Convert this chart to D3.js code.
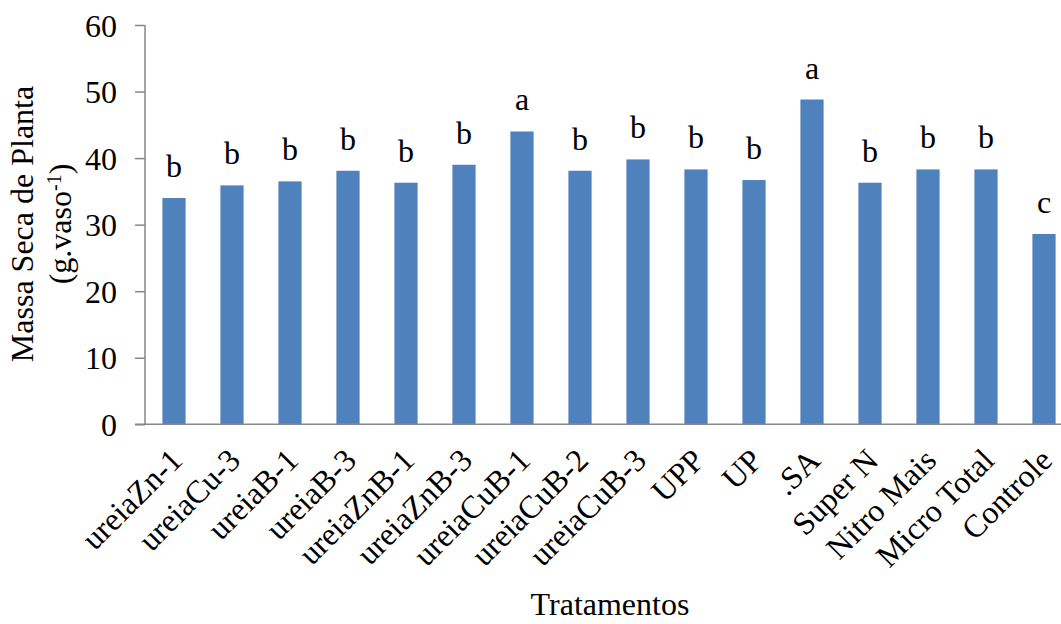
<!DOCTYPE html>
<html><head><meta charset="utf-8">
<script src="https://cdn.jsdelivr.net/npm/d3@7"></script>
<style>body{margin:0;background:#fff;} svg{display:block;}</style>
</head><body>
<svg id="chart" width="1061" height="624"></svg>
<script>
const categories = ["ureiaZn-1","ureiaCu-3","ureiaB-1","ureiaB-3","ureiaZnB-1","ureiaZnB-3","ureiaCuB-1","ureiaCuB-2","ureiaCuB-3","UPP","UP",".SA","Super N","Nitro Mais","Micro Total","Controle"];
const values = [34.0, 35.9, 36.5, 38.1, 36.3, 39.0, 44.0, 38.1, 39.8, 38.3, 36.7, 48.8, 36.3, 38.3, 38.3, 28.6];
const letters = ["b","b","b","b","b","b","a","b","b","b","b","a","b","b","b","c"];
const yTicks = [0,10,20,30,40,50,60];

const FONT = "Liberation Serif";
const FS = 32;
const svg = d3.select("#chart");
const mLeft = 145, mTop = 25, mBottom = 424.3;
const x = d3.scaleBand().domain(categories).range([mLeft, mLeft + 58*16]).paddingInner(0.6).paddingOuter(0.3);
const y = d3.scaleLinear().domain([0,60]).range([mBottom, mTop]);
const axisColor = "#878787";

function styleText(sel, size){
  return sel.attr("font-family",FONT).style("font-family",FONT).style("font-size",size+"px").attr("fill","#000");
}

// bars
svg.selectAll("rect.bar").data(values).enter().append("rect")
  .attr("class","bar")
  .attr("x",(d,i)=>x(categories[i]))
  .attr("width",x.bandwidth())
  .attr("y",d=>y(d))
  .attr("height",d=>y(0)-y(d))
  .attr("fill","#4F81BD");

// letters
styleText(svg.selectAll("text.lett").data(values).enter().append("text")
  .attr("class","lett")
  .attr("x",(d,i)=>x(categories[i])+x.bandwidth()/2)
  .attr("y",d=>y(d)-21)
  .attr("text-anchor","middle")
  .text((d,i)=>letters[i]), FS);

// y axis
const yAxis = d3.axisLeft(y).tickValues(yTicks).tickSize(10).tickPadding(18);
const gy = svg.append("g").attr("transform",`translate(${mLeft},0)`).call(yAxis).attr("font-family",FONT);
gy.select(".domain").attr("stroke",axisColor).attr("stroke-width",1.5).attr("d",`M0,${mTop}V${mBottom}`);
gy.selectAll(".tick line").attr("stroke",axisColor).attr("stroke-width",1.5);
styleText(gy.selectAll(".tick text"), FS).attr("dy","0.35em");

// x axis
const xAxis = d3.axisBottom(x).tickSize(0).tickPadding(0);
const gx = svg.append("g").attr("transform",`translate(0,${mBottom})`).call(xAxis).attr("font-family",FONT);
gx.select(".domain").attr("stroke",axisColor).attr("stroke-width",1.5).attr("d",`M${mLeft-10},0H1061`);
styleText(gx.selectAll(".tick text"), FS)
  .attr("text-anchor","end")
  .attr("dy",null)
  .attr("transform","translate(10,38) rotate(-45)")
  .attr("y",0).attr("x",0);

// axis titles
styleText(svg.append("text").attr("x",610).attr("y",615).attr("text-anchor","middle").text("Tratamentos"), FS);
const yt = styleText(svg.append("text").attr("transform","translate(33,224) rotate(-90)").attr("text-anchor","middle"), FS);
yt.append("tspan").attr("x",0).attr("y",0).text("Massa Seca de Planta");
yt.append("tspan").attr("x",0).attr("y",38).text("(g.vaso");
yt.append("tspan").attr("dy",-10).style("font-size","20px").text("-1");
yt.append("tspan").attr("dy",10).text(")");
</script>
</body></html>
